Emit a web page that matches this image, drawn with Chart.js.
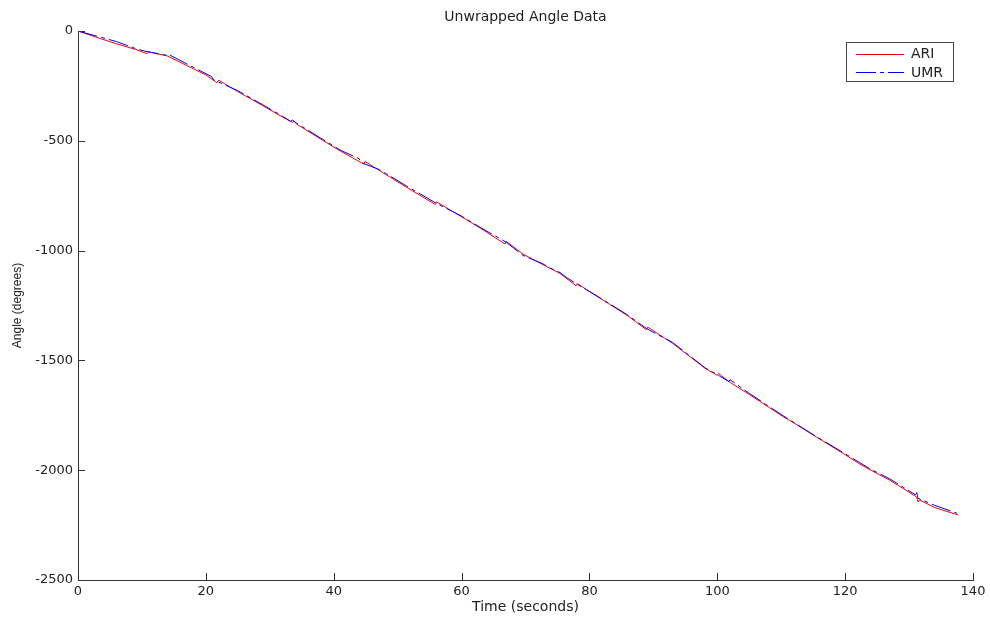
<!DOCTYPE html>
<html>
<head>
<meta charset="utf-8">
<script src="https://cdn.jsdelivr.net/npm/chart.js@4.4.1/dist/chart.umd.min.js"></script>
<style>
  body { margin: 0; background: #fff; }
  #wrap { width: 990px; height: 618px; }
</style>
</head>
<body>
<div id="wrap"><canvas id="cnv" width="990" height="618"></canvas></div>
<script>
// values
var ariTime  = [0, 3, 6, 9, 10.8, 11.0, 14, 17.5, 20, 21.7, 22.0, 25, 28.9, 32, 33.5, 33.8, 34.2, 38.3, 41, 44.7, 44.9, 47.2, 51.4, 55.9, 56.1, 60, 62.9, 66.8, 67.0, 69.6, 73, 75.4, 77.9, 78.1, 81, 85.8, 88.9, 89.1, 93, 98.1, 100, 100.2, 102, 105, 108.2, 110.3, 112, 115, 119.7, 122.3, 123.9, 127, 131.2, 131.4, 131.6, 134, 137.7];
var ariAngle = [0, -30, -58, -84, -103, -95, -114, -164, -200, -235, -224, -276, -340, -392, -416, -410, -424, -498, -546, -606, -594, -636, -712, -790, -778, -846, -897, -970, -958, -1016, -1068, -1104, -1160, -1150, -1205, -1293, -1360, -1348, -1422, -1536, -1568, -1560, -1600, -1655, -1716, -1756, -1785, -1840, -1924, -1972, -1998, -2046, -2122, -2145, -2135, -2170, -2204];

var umrTime  = [0, 3, 6, 9, 10.5, 13.8, 14.0, 17.5, 20.9, 21.2, 25, 28.9, 32, 33.3, 33.5, 34.2, 38.3, 41, 44.0, 44.2, 47.2, 51.4, 56, 60, 62.9, 67, 69.6, 73, 73.3, 75.4, 76.4, 78, 81, 85.8, 89, 90.5, 93, 98.1, 100.4, 101.8, 102, 105, 108.2, 110.3, 115, 119.7, 122.3, 123.9, 127, 131.0, 131.2, 131.4, 134, 137.5];
var umrAngle = [0, -24, -48, -80, -92, -110, -104, -157, -208, -222, -272, -336, -388, -412, -405, -420, -494, -542, -582, -598, -632, -706, -784, -843, -894, -962, -1022, -1064, -1072, -1100, -1122, -1152, -1203, -1290, -1356, -1380, -1418, -1534, -1572, -1596, -1588, -1650, -1712, -1752, -1838, -1920, -1966, -1994, -2040, -2112, -2102, -2128, -2160, -2196];

var xTicks = [0, 20, 40, 60, 80, 100, 120, 140];
var yTicks = [0, -500, -1000, -1500, -2000, -2500];

var seriesNames = ['ARI', 'UMR'];

function toPoints(t, v) {
  var pts = [];
  for (let i = 0; i < t.length; i++) pts.push({x: t[i], y: v[i]});
  return pts;
}

var FONT = 'DejaVu Sans';

// ticks point inward and a boxed legend, like the original figure
var matlabLook = {
  id: 'matlabLook',
  afterDraw: function(chart) {
    var ctx = chart.ctx;
    var xs = chart.scales.x, ys = chart.scales.y;
    var area = chart.chartArea;
    ctx.save();
    ctx.strokeStyle = '#333';
    ctx.lineWidth = 1;
    ctx.beginPath();
    xTicks.forEach(function(v) {
      var px = Math.round(xs.getPixelForValue(v)) + 0.5;
      ctx.moveTo(px, area.bottom);
      ctx.lineTo(px, area.bottom - 7);
    });
    yTicks.forEach(function(v) {
      var py = Math.round(ys.getPixelForValue(v)) + 0.5;
      ctx.moveTo(area.left, py);
      ctx.lineTo(area.left + 7, py);
    });
    ctx.stroke();

    // legend
    var bx = 846.5, by = 42.5, bw = 107, bh = 39;
    ctx.fillStyle = '#fff';
    ctx.fillRect(bx, by, bw, bh);
    ctx.strokeStyle = '#444';
    ctx.strokeRect(bx, by, bw, bh);
    ctx.font = '14px "' + FONT + '"';
    ctx.textBaseline = 'middle';
    ctx.textAlign = 'left';
    var ds = chart.data.datasets;
    for (let i = 0; i < ds.length; i++) {
      var ly = 53.5 + i * 18.5;
      ctx.strokeStyle = ds[i].borderColor;
      ctx.setLineDash(ds[i].borderDash || []);
      ctx.beginPath();
      ctx.moveTo(856, Math.round(ly) + 0.5);
      ctx.lineTo(904, Math.round(ly) + 0.5);
      ctx.stroke();
      ctx.setLineDash([]);
      ctx.fillStyle = '#222';
      ctx.fillText(ds[i].label, 911, ly + 1);
    }
    ctx.restore();
  }
};

const ctx = document.getElementById('cnv').getContext('2d');
const myChart = new Chart(ctx, {
  type: 'line',
  data: {
    datasets: [{
      label: seriesNames[0],
      data: toPoints(ariTime, ariAngle),
      borderColor: '#ff0000',
      borderWidth: 1,
      pointRadius: 0,
      tension: 0,
      order: 2
    }, {
      label: seriesNames[1],
      data: toPoints(umrTime, umrAngle),
      borderColor: '#0000ff',
      borderWidth: 1,
      borderDash: [20, 4, 4, 4],
      pointRadius: 0,
      tension: 0,
      order: 1
    }]
  },
  options: {
    responsive: false,
    animation: false,
    layout: { padding: { left: 0, right: 17, top: 0, bottom: 0 } },
    plugins: {
      legend: { display: false },
      tooltip: { enabled: false },
      title: {
        display: true,
        fullSize: false,
        text: 'Unwrapped Angle Data',
        color: '#222',
        font: { family: FONT, size: 14, weight: 'normal' },
        padding: { top: 9, bottom: 5.2 }
      }
    },
    scales: {
      x: {
        type: 'linear',
        min: 0,
        max: 140,
        afterFit: function(s) { s.height = 38; },
        afterBuildTicks: function(s) { s.ticks = xTicks.map(function(v) { return {value: v}; }); },
        grid: { display: false, drawTicks: false },
        border: { display: true, color: '#333', width: 1 },
        ticks: {
          color: '#222', padding: 4, maxRotation: 0,
          font: { family: FONT, size: 13 },
          callback: function(v) { return String(v); }
        },
        title: {
          display: true,
          text: 'Time (seconds)',
          color: '#222',
          font: { family: FONT, size: 14 },
          padding: { top: 0, bottom: 2 }
        }
      },
      y: {
        type: 'linear',
        min: -2500,
        max: 0,
        afterFit: function(s) { s.width = 78; },
        afterBuildTicks: function(s) { s.ticks = yTicks.map(function(v) { return {value: v}; }); },
        grid: { display: false, drawTicks: false },
        border: { display: true, color: '#333', width: 1 },
        ticks: {
          color: '#222', padding: 5,
          font: { family: FONT, size: 13 },
          callback: function(v) { return String(v); }
        },
        title: {
          display: true,
          text: 'Angle (degrees)',
          color: '#222',
          font: { family: 'Liberation Sans', size: 12 },
          padding: { top: 10, bottom: 0 }
        }
      }
    }
  },
  plugins: [matlabLook]
});
</script>
</body>
</html>
